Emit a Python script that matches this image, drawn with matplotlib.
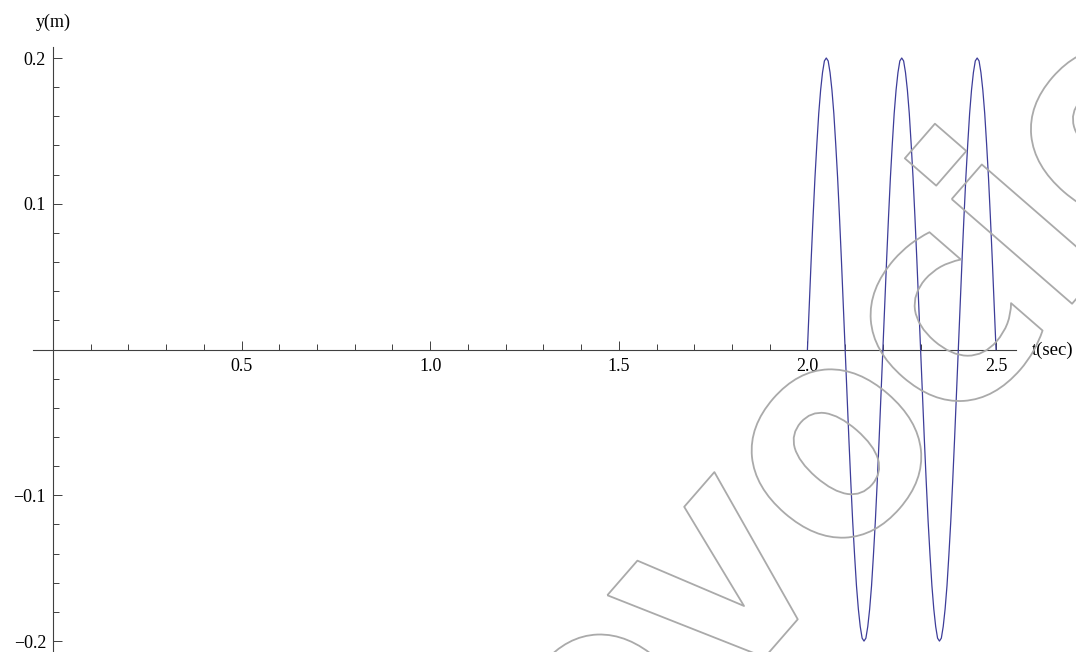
import matplotlib
matplotlib.use("Agg")
import matplotlib.pyplot as plt
import matplotlib.patheffects as pe
import numpy as np

# sampled displacement of the pulse, t from 2.0 s to 2.5 s every 0.005 s
t_sec = np.round(np.arange(2.0, 2.5001, 0.005), 3)
y_m = [
    0.000, 0.031, 0.062, 0.091, 0.118, 0.141, 0.162, 0.178, 0.190, 0.198,
    0.200, 0.198, 0.190, 0.178, 0.162, 0.141, 0.118, 0.091, 0.062, 0.031,
    0.000, -0.031, -0.062, -0.091, -0.118, -0.141, -0.162, -0.178, -0.190, -0.198,
    -0.200, -0.198, -0.190, -0.178, -0.162, -0.141, -0.118, -0.091, -0.062, -0.031,
    0.000, 0.031, 0.062, 0.091, 0.118, 0.141, 0.162, 0.178, 0.190, 0.198,
    0.200, 0.198, 0.190, 0.178, 0.162, 0.141, 0.118, 0.091, 0.062, 0.031,
    0.000, -0.031, -0.062, -0.091, -0.118, -0.141, -0.162, -0.178, -0.190, -0.198,
    -0.200, -0.198, -0.190, -0.178, -0.162, -0.141, -0.118, -0.091, -0.062, -0.031,
    0.000, 0.031, 0.062, 0.091, 0.118, 0.141, 0.162, 0.178, 0.190, 0.198,
    0.200, 0.198, 0.190, 0.178, 0.162, 0.141, 0.118, 0.091, 0.062, 0.031,
    0.000,
]

x_major = [0.5, 1.0, 1.5, 2.0, 2.5]
x_labels = ["0.5", "1.0", "1.5", "2.0", "2.5"]
x_minor = [0.1, 0.2, 0.3, 0.4, 0.6, 0.7, 0.8, 0.9, 1.1, 1.2, 1.3, 1.4,
           1.6, 1.7, 1.8, 1.9, 2.1, 2.2, 2.3, 2.4]
y_major = [-0.2, -0.1, 0.1, 0.2]
y_labels = ["\u22120.2", "\u22120.1", "0.1", "0.2"]
y_minor = [-0.18, -0.16, -0.14, -0.12, -0.08, -0.06, -0.04, -0.02,
           0.02, 0.04, 0.06, 0.08, 0.12, 0.14, 0.16, 0.18]

plt.rcParams["font.family"] = ["Liberation Serif", "DejaVu Serif"]

fig = plt.figure(figsize=(10.76, 6.52), dpi=100)
ax = fig.add_axes([0, 0, 1, 1])
ax.set_xlim(-0.1405, 2.712)
ax.set_ylim(-0.2075, 0.2398)

ax.plot(t_sec, y_m, color="#3d3d99", linewidth=0.9, zorder=3)

for side in ("top", "right"):
    ax.spines[side].set_visible(False)
ax.spines["bottom"].set_position(("data", 0))
ax.spines["left"].set_position(("data", 0))
ax.spines["bottom"].set_bounds(-0.053, 2.553)
ax.spines["left"].set_bounds(-0.2075, 0.2075)
for side in ("bottom", "left"):
    ax.spines[side].set_color("0.25")
    ax.spines[side].set_linewidth(0.8)

ax.set_xticks(x_major)
ax.set_xticklabels(x_labels)
ax.set_xticks(x_minor, minor=True)
ax.set_yticks(y_major)
ax.set_yticklabels(y_labels)
ax.set_yticks(y_minor, minor=True)
ax.tick_params(which="both", direction="in", color="0.25", width=0.7, labelsize=13)
ax.tick_params(which="major", length=6.5)
ax.tick_params(which="minor", length=4)
ax.tick_params(axis="x", pad=6)
ax.tick_params(axis="y", pad=5)

fig.text(53 / 1076, 1 - 22 / 652, "y(m)", ha="center", va="center", fontsize=13)
fig.text(1032 / 1076, 1 - 350 / 652, "t(sec)", ha="left", va="center", fontsize=13.5)

# watermark outline
fig.text(860 / 1076, 1 - 425 / 652, "ovocio", ha="center", va="center",
         fontsize=210, rotation=49, color="none", family="DejaVu Sans",
         weight="bold", fontstretch="condensed",
         path_effects=[pe.Stroke(linewidth=1.3, foreground="#aaaaaa")], zorder=5)

fig.savefig("out.png", dpi=100)
